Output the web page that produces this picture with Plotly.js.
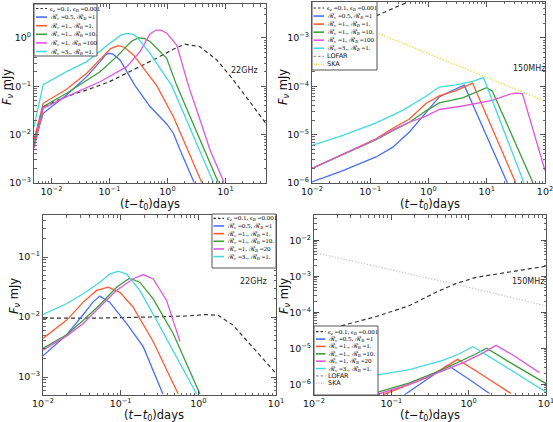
<!DOCTYPE html>
<html><head><meta charset="utf-8">
<script src="https://cdn.plot.ly/plotly-3.0.1.min.js"></script>
<style>html,body{margin:0;padding:0;background:#fff}#chart{width:553px;height:422px}</style>
</head><body><div id="chart"></div>
<script>
// ================= DATA (days, mJy) =================
// Panel 1: 22 GHz (top-left)
const p1_dash_x = [0.005, 0.0072, 0.018, 0.041, 0.10, 0.26, 0.65, 1.26, 2.0, 3.6, 7.1, 13.7, 26.5, 50];
const p1_dash_y = [0.008, 0.038, 0.061, 0.084, 0.124, 0.217, 0.38, 0.58, 0.74, 0.66, 0.35, 0.135, 0.048, 0.017];
const p1_blue_x = [0.005, 0.0072, 0.0182, 0.0406, 0.0689, 0.085, 0.096, 0.115, 0.152, 0.276, 0.501, 0.97, 1.265, 1.65, 2.88];
const p1_blue_y = [0.0064, 0.0276, 0.066, 0.158, 0.323, 0.44, 0.48, 0.46, 0.349, 0.103, 0.038, 0.0166, 0.0107, 0.0048, 0.00102];
const p1_red_x = [0.005, 0.0072, 0.0182, 0.0406, 0.0689, 0.105, 0.1425, 0.18, 0.259, 0.653, 1.265, 2.23, 3.9];
const p1_red_y = [0.0078, 0.0444, 0.0865, 0.185, 0.36, 0.60, 0.69, 0.64, 0.443, 0.103, 0.0235, 0.0048, 0.00102];
const p1_green_x = [0.005, 0.0072, 0.0182, 0.0689, 0.133, 0.24, 0.316, 0.40, 0.501, 0.97, 1.446, 2.45, 4.27, 7.55];
const p1_green_y = [0.00565, 0.038, 0.0715, 0.2, 0.409, 0.85, 1.0, 0.97, 0.84, 0.378, 0.103, 0.0235, 0.0048, 0.00102];
const p1_mag_x = [0.005, 0.0072, 0.0182, 0.0689, 0.199, 0.337, 0.5, 0.635, 0.78, 0.97, 1.446, 2.30, 3.65, 5.42, 9.46];
const p1_mag_y = [0.0052, 0.035, 0.061, 0.124, 0.254, 0.52, 1.2, 1.45, 1.45, 1.25, 0.713, 0.103, 0.0201, 0.0048, 0.00102];
const p1_cyan_x = [0.005, 0.0072, 0.0182, 0.0406, 0.102, 0.16, 0.199, 0.25, 0.295, 0.501, 1.186, 2.01, 3.56, 6.2];
const p1_cyan_y = [0.0146, 0.108, 0.2, 0.323, 0.771, 1.15, 1.24, 1.2, 1.05, 0.48, 0.103, 0.0235, 0.0048, 0.00102];

// Panel 2: 150 MHz (top-right)
const p2_dash_x = [0.01, 0.144, 0.47, 0.7];
const p2_dash_y = [7.5e-4, 3.0e-3, 5.6e-3, 7.0e-3];
const p2_ska_x = [0.01, 8.5, 100];
const p2_ska_y = [4.5e-3, 1.6e-4, 4.9e-5];
const p2_blue_x = [0.01, 0.034, 0.126, 0.244, 0.47, 0.905, 1.53, 2.27, 4.1, 22.6];
const p2_blue_y = [1.05e-6, 1.8e-6, 3.45e-6, 5.5e-6, 1.13e-5, 2.93e-5, 6.0e-5, 7.6e-5, 1.05e-4, 1.0e-6];
const p2_red_x = [0.01, 0.034, 0.126, 0.244, 0.47, 0.905, 1.53, 2.96, 5.7, 31.5];
const p2_red_y = [2.0e-6, 3.9e-6, 8.2e-6, 1.35e-5, 2.1e-5, 4.4e-5, 6.3e-5, 8.1e-5, 1.16e-4, 1.0e-6];
const p2_green_x = [0.01, 0.034, 0.126, 0.244, 0.47, 0.905, 1.53, 3.85, 7.4, 9.9, 12.5, 62.4];
const p2_green_y = [2.0e-6, 3.9e-6, 7.9e-6, 1.2e-5, 1.8e-5, 3.1e-5, 4.5e-5, 5.75e-5, 7.9e-5, 9.3e-5, 7.9e-5, 1.0e-6];
const p2_mag_x = [0.01, 0.034, 0.126, 0.244, 0.47, 0.905, 1.53, 3.85, 12.5, 24.2, 31.5, 41, 100];
const p2_mag_y = [2.0e-6, 3.9e-6, 8.0e-6, 1.25e-5, 1.8e-5, 2.4e-5, 3.3e-5, 3.9e-5, 5.1e-5, 6.8e-5, 7.2e-5, 7.0e-5, 1.8e-6];
const p2_cyan_x = [0.01, 0.034, 0.126, 0.36, 0.905, 1.53, 2.96, 5.7, 8.8, 43.6];
const p2_cyan_y = [6.0e-6, 9.6e-6, 1.74e-5, 3.16e-5, 6.2e-5, 9.6e-5, 1.07e-4, 1.26e-4, 1.5e-4, 1.0e-6];

// Panel 3: 22 GHz (bottom-left)
const p3_dash_x = [0.01, 0.054, 0.237, 0.705, 1.28, 1.8, 2.8, 4.6, 7.6, 10];
const p3_dash_y = [0.0096, 0.0096, 0.010, 0.0104, 0.011, 0.0107, 0.0073, 0.0036, 0.0017, 0.00115];
const p3_blue_x = [0.01, 0.02, 0.033, 0.044, 0.054, 0.072, 0.119, 0.195, 0.35];
const p3_blue_y = [0.00226, 0.0050, 0.011, 0.0177, 0.0223, 0.0177, 0.0078, 0.0032, 0.00052];
const p3_red_x = [0.01, 0.02, 0.033, 0.049, 0.069, 0.097, 0.144, 0.262, 0.55];
const p3_red_y = [0.0044, 0.0088, 0.0177, 0.0277, 0.0314, 0.026, 0.0147, 0.0039, 0.00052];
const p3_green_x = [0.01, 0.02, 0.033, 0.054, 0.088, 0.13, 0.176, 0.262, 0.474, 1.05];
const p3_green_y = [0.003, 0.005, 0.0088, 0.016, 0.031, 0.0443, 0.038, 0.020, 0.0053, 0.00052];
const p3_mag_x = [0.01, 0.02, 0.033, 0.054, 0.088, 0.144, 0.195, 0.262, 0.39, 0.58];
const p3_mag_y = [0.0028, 0.0048, 0.0078, 0.0147, 0.0277, 0.043, 0.051, 0.043, 0.0189, 0.0039];
const p3_cyan_x = [0.01, 0.02, 0.033, 0.054, 0.072, 0.093, 0.119, 0.176, 0.29, 0.39, 0.95];
const p3_cyan_y = [0.011, 0.0166, 0.0244, 0.038, 0.052, 0.058, 0.052, 0.0277, 0.0088, 0.0044, 0.00052];

// Panel 4: 150 MHz (bottom-right)
const p4_dash_x = [0.01, 0.0237, 0.064, 0.172, 0.38, 0.69, 1.25, 3.36, 10];
const p4_dash_y = [2.8e-5, 4.3e-5, 7.6e-5, 1.53e-4, 3.6e-4, 6.3e-4, 9.3e-4, 1.33e-3, 1.9e-3];
const p4_ska_x = [0.01, 1, 10];
const p4_ska_y = [4.6e-3, 4.9e-4, 1.5e-4];
const p4_blue_x = [0.148, 0.283, 0.537, 1.02, 1.86];
const p4_blue_y = [5.1e-7, 1.29e-6, 3.35e-6, 1.35e-6, 5.5e-7];
const p4_red_x = [0.078, 0.172, 0.283, 0.46, 0.72, 1.52, 3.53];
const p4_red_y = [5.1e-7, 1.0e-6, 1.5e-6, 2.7e-6, 4.9e-6, 1.78e-6, 5.5e-7];
const p4_green_x = [0.064, 0.172, 0.46, 0.84, 1.25, 1.71, 3.36, 10];
const p4_green_y = [5.8e-7, 1.09e-6, 2.55e-6, 4.6e-6, 7.0e-6, 1.0e-5, 4.1e-6, 1.04e-6];
const p4_mag_x = [0.064, 0.172, 0.46, 0.84, 1.52, 2.26, 4.1, 8.2];
const p4_mag_y = [5.1e-7, 1.0e-6, 2.34e-6, 3.9e-6, 7.3e-6, 1.2e-5, 5.7e-6, 2.1e-6];
const p4_cyan_x = [0.01, 0.064, 0.172, 0.46, 0.76, 1.13, 10];
const p4_cyan_y = [7.3e-7, 1.78e-6, 2.55e-6, 4.6e-6, 7.0e-6, 1.12e-5, 6.1e-7];

// Tick values / labels
const ticks_x4 = [0.01, 0.1, 1, 10];
const labels_x4 = ['10<sup>−2</sup>', '10<sup>−1</sup>', '10<sup>0</sup>', '10<sup>1</sup>'];
const ticks_x5 = [0.01, 0.1, 1, 10, 100];
const labels_x5 = ['10<sup>−2</sup>', '10<sup>−1</sup>', '10<sup>0</sup>', '10<sup>1</sup>', '10<sup>2</sup>'];
const ticks_y1 = [0.001, 0.01, 0.1, 1];
const labels_y1 = ['10<sup>−3</sup>', '10<sup>−2</sup>', '10<sup>−1</sup>', '10<sup>0</sup>'];
const ticks_y2 = [1e-6, 1e-5, 1e-4, 1e-3];
const labels_y2 = ['10<sup>−6</sup>', '10<sup>−5</sup>', '10<sup>−4</sup>', '10<sup>−3</sup>'];
const ticks_y3 = [0.001, 0.01, 0.1];
const labels_y3 = ['10<sup>−3</sup>', '10<sup>−2</sup>', '10<sup>−1</sup>'];
const ticks_y4 = [1e-6, 1e-5, 1e-4, 1e-3, 1e-2];
const labels_y4 = ['10<sup>−6</sup>', '10<sup>−5</sup>', '10<sup>−4</sup>', '10<sup>−3</sup>', '10<sup>−2</sup>'];

// Legend labels
const modelName = '<i>ϵ</i><sub><i>e</i></sub> =0.1, <i>ϵ</i><sub><i>B</i></sub> =0.001';
const rName = (v, b) => 'ℛ<sub><i>v</i></sub> =' + v + ', ℛ<sub><i>B</i></sub> =' + b;
const names_top = [modelName, rName('0.5', '1'), rName('1.', '1.'), rName('1.', '10.'), rName('1', '100'), rName('3.', '1.')];
const names_bot = [modelName, rName('0.5', '1'), rName('1.', '1.'), rName('1.', '10.'), rName('1', '20'), rName('3.', '1.')];
const extra_names = ['LOFAR', 'SKA'];

// ================= STYLE =================
const W = 553, H = 422;
const px = v => v / W, py = v => 1 - v / H;
const C = {dash: '#333333', blue: '#4b6ef2', red: '#ff5a36', green: '#3c9e3c', mag: '#dd58dd', cyan: '#44dada',
           ska2: '#e2e24a', ska4: '#cfcfcf', lofar: '#999999'};
const DASH = '4px,3px';

function tr(x, y, color, xa, ya, opts) {
  opts = opts || {};
  return {x: x, y: y, type: 'scatter', mode: 'lines', xaxis: xa, yaxis: ya, hoverinfo: 'skip', showlegend: false,
    line: {color: color, width: opts.w || 1.3, dash: opts.dash || 'solid'}};
}

const data = [
  tr(p1_dash_x, p1_dash_y, C.dash, 'x', 'y', {dash: DASH, w: 1.2}),
  tr(p1_blue_x, p1_blue_y, C.blue, 'x', 'y'),
  tr(p1_red_x, p1_red_y, C.red, 'x', 'y'),
  tr(p1_green_x, p1_green_y, C.green, 'x', 'y'),
  tr(p1_mag_x, p1_mag_y, C.mag, 'x', 'y'),
  tr(p1_cyan_x, p1_cyan_y, C.cyan, 'x', 'y'),

  tr(p2_dash_x, p2_dash_y, C.dash, 'x2', 'y2', {dash: DASH, w: 1.2}),
  tr(p2_ska_x, p2_ska_y, C.ska2, 'x2', 'y2', {dash: '1.5px,1.5px', w: 1.3}),
  tr(p2_blue_x, p2_blue_y, C.blue, 'x2', 'y2'),
  tr(p2_red_x, p2_red_y, C.red, 'x2', 'y2'),
  tr(p2_green_x, p2_green_y, C.green, 'x2', 'y2'),
  tr(p2_mag_x, p2_mag_y, C.mag, 'x2', 'y2'),
  tr(p2_cyan_x, p2_cyan_y, C.cyan, 'x2', 'y2'),

  tr(p3_dash_x, p3_dash_y, C.dash, 'x3', 'y3', {dash: DASH, w: 1.2}),
  tr(p3_blue_x, p3_blue_y, C.blue, 'x3', 'y3'),
  tr(p3_red_x, p3_red_y, C.red, 'x3', 'y3'),
  tr(p3_green_x, p3_green_y, C.green, 'x3', 'y3'),
  tr(p3_mag_x, p3_mag_y, C.mag, 'x3', 'y3'),
  tr(p3_cyan_x, p3_cyan_y, C.cyan, 'x3', 'y3'),

  tr(p4_ska_x, p4_ska_y, C.ska4, 'x4', 'y4', {dash: '1.5px,1.5px', w: 1.3}),
  tr(p4_dash_x, p4_dash_y, C.dash, 'x4', 'y4', {dash: DASH, w: 1.2}),
  tr(p4_blue_x, p4_blue_y, C.blue, 'x4', 'y4'),
  tr(p4_red_x, p4_red_y, C.red, 'x4', 'y4'),
  tr(p4_green_x, p4_green_y, C.green, 'x4', 'y4'),
  tr(p4_mag_x, p4_mag_y, C.mag, 'x4', 'y4'),
  tr(p4_cyan_x, p4_cyan_y, C.cyan, 'x4', 'y4')
];

function logAxis(p0, p1, range, tickvals, ticktext, anchor, isY) {
  const dom = isY ? [py(p1), py(p0)] : [px(p0), px(p1)];
  const minor = [];
  for (let e = Math.floor(range[0]); e <= Math.ceil(range[1]); e++) {
    for (let m = 2; m <= 9; m++) {
      const v = m * Math.pow(10, e), l = Math.log10(v);
      if (l > range[0] && l < range[1]) minor.push(v);
    }
  }
  return {type: 'log', domain: dom, range: range, anchor: anchor, tickmode: 'array', tickvals: tickvals, ticktext: ticktext,
    showline: true, mirror: 'allticks', linecolor: '#555', linewidth: 1, ticks: 'inside', ticklen: 5, tickwidth: 1, tickcolor: '#555',
    showgrid: false, zeroline: false, automargin: false, ticklabeloverflow: 'allow',
    tickfont: {family: 'DejaVu Sans', size: 9.5, color: '#111'},
    minor: {ticks: 'inside', ticklen: 2.5, tickwidth: 1, tickcolor: '#666', tickmode: 'array', tickvals: minor, showgrid: false}};
}

const shapes = [], annotations = [];
function addLegend(spec, names, styles) {
  shapes.push({type: 'rect', xref: 'paper', yref: 'paper', x0: px(spec.x0), x1: px(spec.x1), y0: py(spec.y1), y1: py(spec.y0),
    line: {color: '#555', width: 1}, fillcolor: 'white', layer: 'above'});
  names.forEach((n, i) => {
    const yy = spec.y + i * spec.dy;
    shapes.push({type: 'line', xref: 'paper', yref: 'paper', x0: px(spec.sx0), x1: px(spec.sx1), y0: py(yy), y1: py(yy),
      line: {color: styles[i].color, width: styles[i].w || 1.6, dash: styles[i].dash || 'solid'}, layer: 'above'});
    annotations.push({xref: 'paper', yref: 'paper', x: px(spec.tx), y: py(yy), text: n, showarrow: false,
      xanchor: 'left', yanchor: 'middle', borderpad: 0,
      font: {family: styles[i].sans ? 'DejaVu Sans' : 'Liberation Serif', size: styles[i].sans ? 6.5 : 7, color: '#111'}});
  });
}
const baseStyles = [{color: C.dash, dash: '2.5px,2px', w: 1.2}, {color: C.blue}, {color: C.red}, {color: C.green}, {color: C.mag}, {color: C.cyan}];
addLegend({x0: 34, x1: 97, y0: 4, y1: 56, y: 8.5, dy: 8.6, sx0: 36, sx1: 47, tx: 48.5}, names_top, baseStyles);
addLegend({x0: 312, x1: 377, y0: 1.5, y1: 70, y: 8, dy: 8.05, sx0: 313.5, sx1: 324, tx: 325.5}, names_top.concat(extra_names),
  baseStyles.concat([{color: C.lofar, dash: '2.5px,2px', w: 1.2, sans: true}, {color: C.ska2, dash: '1.2px,1.2px', w: 1.6, sans: true}]));
addLegend({x0: 212, x1: 276, y0: 214, y1: 268, y: 218.3, dy: 7.66, sx0: 213.5, sx1: 224, tx: 225.5}, names_bot, baseStyles);
addLegend({x0: 314, x1: 378, y0: 326, y1: 395, y: 331.7, dy: 7.37, sx0: 316, sx1: 325.5, tx: 327}, names_bot.concat(extra_names),
  baseStyles.concat([{color: C.lofar, dash: '2.5px,2px', w: 1.2, sans: true}, {color: C.ska4, dash: '1.2px,1.2px', w: 1.6, sans: true}]));

// Frequency labels
[['22GHz', 245, 70], ['150MHz', 528.5, 68], ['22GHz', 253, 281], ['150MHz', 527.5, 281.5]].forEach(a => {
  annotations.push({xref: 'paper', yref: 'paper', x: px(a[1]), y: py(a[2]), text: a[0], showarrow: false,
    xanchor: 'center', yanchor: 'middle', font: {family: 'DejaVu Sans', size: 8, color: '#222'}});
});
// Axis titles
const yTitle = '<i>F</i><sub><i>ν</i></sub> mJy';
const xTitle = '(<i>t</i>−<i>t</i><sub>0</sub>)days';
[[8, 87], [284, 87], [14, 296], [284, 296]].forEach(p => {
  annotations.push({xref: 'paper', yref: 'paper', x: px(p[0]), y: py(p[1]), text: yTitle, showarrow: false, textangle: -90,
    xanchor: 'center', yanchor: 'middle', font: {family: 'DejaVu Sans', size: 11.5, color: '#111'}});
});
[[150, 205], [430, 205], [154, 415], [430, 415]].forEach(p => {
  annotations.push({xref: 'paper', yref: 'paper', x: px(p[0]), y: py(p[1]), text: xTitle, showarrow: false,
    xanchor: 'center', yanchor: 'middle', font: {family: 'DejaVu Sans', size: 11.5, color: '#111'}});
});

const layout = {
  width: W, height: H, margin: {l: 0, r: 0, t: 0, b: 0}, paper_bgcolor: 'white', plot_bgcolor: 'white', showlegend: false,
  xaxis: logAxis(34, 266, [Math.log10(0.005), Math.log10(50)], ticks_x4, labels_x4, 'y', false),
  yaxis: logAxis(4, 183, [-3, 0.7], ticks_y1, labels_y1, 'x', true),
  xaxis2: logAxis(312, 545, [-2, 2], ticks_x5, labels_x5, 'y2', false),
  yaxis2: logAxis(1.5, 183, [-6, -2.25], ticks_y2, labels_y2, 'x2', true),
  xaxis3: logAxis(43, 276, [-2, 1], ticks_x4, labels_x4, 'y3', false),
  yaxis3: logAxis(215, 395, [-3.3, -0.3], ticks_y3, labels_y3, 'x3', true),
  xaxis4: logAxis(314, 546, [-2, 1], ticks_x4, labels_x4, 'y4', false),
  yaxis4: logAxis(215, 395, [-6.3, -1.3], ticks_y4, labels_y4, 'x4', true),
  shapes: shapes, annotations: annotations
};

Plotly.newPlot('chart', data, layout, {staticPlot: true, displayModeBar: false});
</script></body></html>
